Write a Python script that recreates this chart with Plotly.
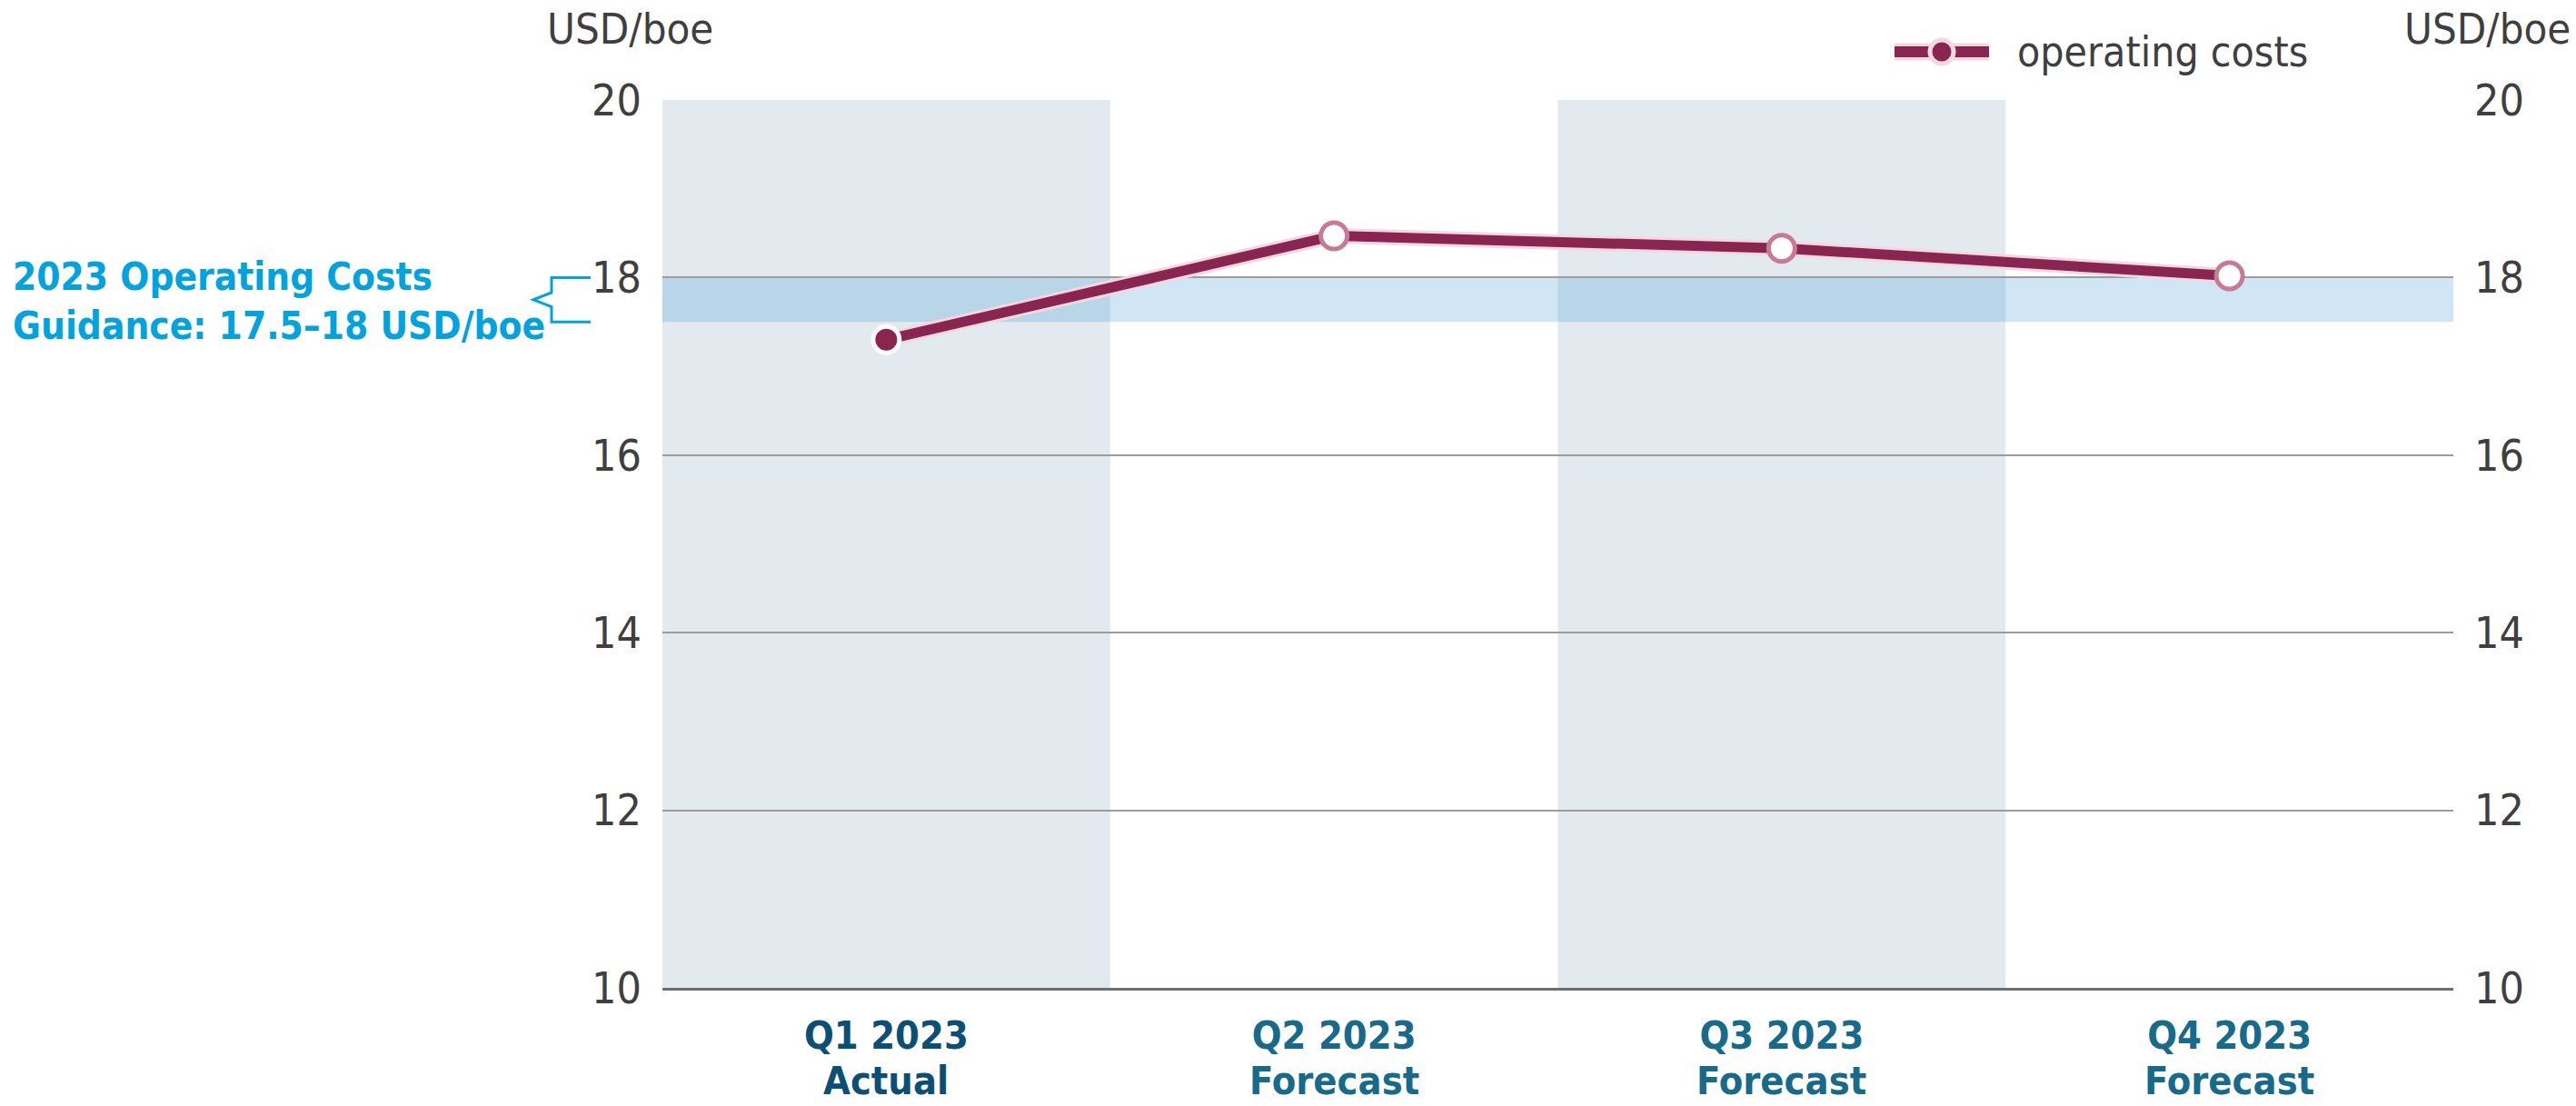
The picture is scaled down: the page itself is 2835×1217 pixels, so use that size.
import plotly.graph_objects as go

# ---- data ----
categories = ["Q1 2023", "Q2 2023", "Q3 2023", "Q4 2023"]
category_sub = ["Actual", "Forecast", "Forecast", "Forecast"]
operating_costs = [17.30, 18.47, 18.33, 18.02]
is_actual = [True, False, False, False]
guidance_low = 17.5
guidance_high = 18.0
y_ticks = [10, 12, 14, 16, 18, 20]
shaded_categories = ["Q1 2023", "Q3 2023"]

# ---- styles ----
FONT = "DejaVu Sans Condensed, Liberation Sans Narrow, DejaVu Sans, sans-serif"
MAROON = "#8a2450"
HALO = "#f2d8e0"
FORECAST_RING = "#c67b92"
SHADE = "#e2eaf0"
BAND = "rgba(35,138,204,0.21)"
CYAN = "#00a3dd"
GRAY_TXT = "#3f3f3f"
CAT_ACT = "#0c4f74"
CAT_FC = "#176a8a"

W, H = 2835, 1217
L, R, T, B = 729, 2700, 110, 1087  # plot area in pixels
pw, ph = R - L, B - T

def px_x(p):
    return (p - L) / pw

def px_y(p):
    return (B - p) / ph

ticktext = []
for c, a in zip(categories, is_actual):
    col = CAT_ACT if a else CAT_FC
    ticktext.append(f"<span style='color:{col}'>{c}</span>")

fig = go.Figure()

# halo under line
fig.add_trace(go.Scatter(
    x=categories, y=operating_costs, mode="lines",
    line=dict(color=HALO, width=17), hoverinfo="skip", showlegend=False,
))
fig.add_trace(go.Scatter(
    x=categories, y=operating_costs, mode="lines+markers",
    name="operating costs",
    line=dict(color=MAROON, width=11),
    marker=dict(
        size=29,
        color=[MAROON if a else "white" for a in is_actual],
        line=dict(color=["white" if a else FORECAST_RING for a in is_actual], width=5),
    ),
    showlegend=False,
))
# invisible trace to activate right axis
fig.add_trace(go.Scatter(x=categories, y=operating_costs, yaxis="y2",
                         mode="lines", line=dict(width=0), opacity=0,
                         hoverinfo="skip", showlegend=False))

shapes = []
# shaded category columns
for c in shaded_categories:
    i = categories.index(c)
    shapes.append(dict(type="rect", xref="x", yref="paper", x0=i - 0.5, x1=i + 0.5,
                       y0=0, y1=1, fillcolor=SHADE, line=dict(width=0), layer="below"))
# guidance band
shapes.append(dict(type="rect", xref="paper", yref="y", x0=0, x1=1,
                   y0=guidance_low, y1=guidance_high, fillcolor=BAND,
                   line=dict(width=0), layer="below"))
# bracket
mid = (guidance_low + guidance_high) / 2
xr, xv, xt = px_x(650), px_x(607), px_x(587)
path = (f"M {xr},{guidance_high} L {xv},{guidance_high} L {xv},{mid + 0.08} "
        f"L {xt},{mid} L {xv},{mid - 0.08} L {xv},{guidance_low} L {xr},{guidance_low}")
shapes.append(dict(type="path", xref="paper", yref="y", path=path,
                   line=dict(color=CYAN, width=3)))
# manual legend
ly = px_y(57)
shapes.append(dict(type="line", xref="paper", yref="paper", x0=px_x(2085), x1=px_x(2189),
                   y0=ly, y1=ly, line=dict(color=HALO, width=19)))
shapes.append(dict(type="line", xref="paper", yref="paper", x0=px_x(2085), x1=px_x(2189),
                   y0=ly, y1=ly, line=dict(color=MAROON, width=12)))
shapes.append(dict(type="circle", xref="paper", yref="paper",
                   xsizemode="pixel", ysizemode="pixel",
                   xanchor=px_x(2137), yanchor=ly, x0=-13, x1=13, y0=-13, y1=13,
                   fillcolor=MAROON, line=dict(color=HALO, width=5)))

annotations = [
    dict(text="operating costs", xref="paper", yref="paper", x=px_x(2218), y=ly,
         xanchor="left", yanchor="middle", showarrow=False,
         font=dict(family=FONT, size=46, color=GRAY_TXT)),
    dict(text="USD/boe", xref="paper", yref="paper", x=px_x(600), y=px_y(31),
         xanchor="left", yanchor="middle", showarrow=False,
         font=dict(family=FONT, size=47, color=GRAY_TXT)),
    dict(text="USD/boe", xref="paper", yref="paper", x=px_x(2831), y=px_y(31),
         xanchor="right", yanchor="middle", showarrow=False,
         font=dict(family=FONT, size=47, color=GRAY_TXT)),
    dict(text="<b>2023 Operating Costs</b>", xref="paper", yref="y", x=px_x(12), y=18.01,
         xanchor="left", yanchor="middle", showarrow=False,
         font=dict(family=FONT, size=42, color=CYAN)),
    dict(text=f"<b>Guidance: {guidance_low:g}–{guidance_high:g} USD/boe</b>", xref="paper", yref="y",
         x=px_x(12), y=17.46, xanchor="left", yanchor="middle", showarrow=False,
         font=dict(family=FONT, size=42, color=CYAN)),
]
# second line of category labels
for c, s, a in zip(categories, category_sub, is_actual):
    annotations.append(dict(text=f"<b>{s}</b>", xref="x", yref="paper", x=c, y=px_y(1189),
                            xanchor="center", yanchor="middle", showarrow=False,
                            font=dict(family=FONT, size=43, color=CAT_ACT if a else CAT_FC)))

yaxis_common = dict(
    range=[10, 20], tickvals=y_ticks, ticks="", ticklabelstandoff=22, automargin=False,
    tickfont=dict(family=FONT, size=48, color=GRAY_TXT), zeroline=False, fixedrange=True,
)

fig.update_layout(
    width=W, height=H,
    margin=dict(l=L, r=W - R, t=T, b=H - B, pad=0, autoexpand=False),
    paper_bgcolor="white", plot_bgcolor="rgba(0,0,0,0)",
    showlegend=False,
    xaxis=dict(type="category", categoryorder="array", categoryarray=categories,
               range=[-0.5, len(categories) - 0.5], automargin=False, fixedrange=True,
               tickvals=categories, ticktext=ticktext, ticks="", ticklabelstandoff=12,
               tickfont=dict(family=FONT, size=43, color=CAT_FC, weight="bold"),
               showgrid=False, showline=True, linecolor="#6e6e6e", linewidth=3,
               zeroline=False),
    yaxis=dict(**yaxis_common, showgrid=True, gridcolor="#9c9c9c", gridwidth=2, side="left"),
    yaxis2=dict(**yaxis_common, overlaying="y", side="right", showgrid=False),
    shapes=shapes,
    annotations=annotations,
    font=dict(family=FONT),
)

fig.write_html("out.html", config={"displayModeBar": False},
               post_script="document.body.style.margin='0';document.body.style.overflow='hidden';")
